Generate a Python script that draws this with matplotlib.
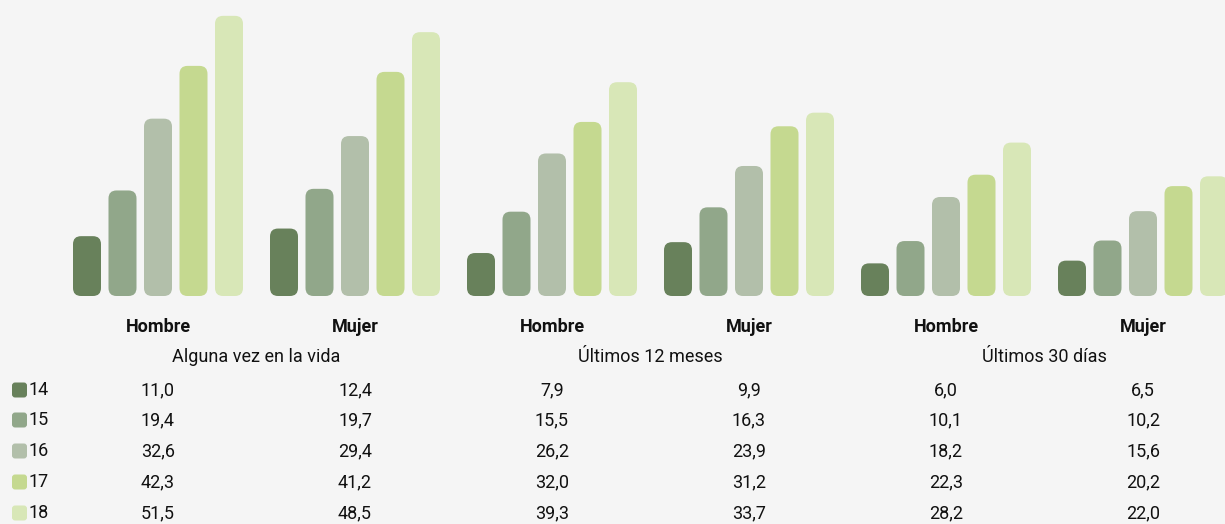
import matplotlib.pyplot as plt
from matplotlib.patches import FancyBboxPatch
import matplotlib.transforms as mtransforms

# Data
ages = ['14', '15', '16', '17', '18']
groups = ['Hombre', 'Mujer', 'Hombre', 'Mujer', 'Hombre', 'Mujer']
periods = ['Alguna vez en la vida', 'Últimos 12 meses', 'Últimos 30 días']
vida = [[11.0, 19.4, 32.6, 42.3, 51.5], [12.4, 19.7, 29.4, 41.2, 48.5]]
meses12 = [[7.9, 15.5, 26.2, 32.0, 39.3], [9.9, 16.3, 23.9, 31.2, 33.7]]
dias30 = [[6.0, 10.1, 18.2, 22.3, 28.2], [6.5, 10.2, 15.6, 20.2, 22.0]]
colors = ['#68815b', '#91a78a', '#b2bfaa', '#c5d990', '#d8e7b7']

series = vida + meses12 + dias30
bg = '#f5f5f5'

plt.rcParams['font.family'] = ['Roboto', 'DejaVu Sans']

W, H = 1225, 524
fig = plt.figure(figsize=(W / 100, H / 100), dpi=100, facecolor=bg)
base_px = 296
ax = fig.add_axes([0, (H - base_px) / H, 1, base_px / H])
ax.set_facecolor(bg)
px_per_x = 197.0
px_per_y = 5.44
ax.set_xlim(-158 / px_per_x, (W - 158) / px_per_x)
ax.set_ylim(0, base_px / px_per_y)
ax.axis('off')

bw = 28 / px_per_x
step = 35.5 / px_per_x
aspect = px_per_x / px_per_y
r = 8 / px_per_x
for g, vals in enumerate(series):
    for k, v in enumerate(vals):
        x0 = g + (k - 2) * step - bw / 2
        p = FancyBboxPatch((x0, 0), bw, v,
                           boxstyle=f'round,pad=0,rounding_size={r}',
                           mutation_aspect=aspect, fc=colors[k], ec='none')
        ax.add_patch(p)

trans = mtransforms.blended_transform_factory(ax.transData, fig.transFigure)
txt = '#111111'

def fy(py):
    return 1 - py / H

for g, name in enumerate(groups):
    ax.text(g, fy(327), name, transform=trans, ha='center', va='center',
            fontsize=13, fontweight='bold', color=txt)
for i, per in enumerate(periods):
    ax.text(2 * i + 0.5, fy(357), per, transform=trans, ha='center', va='center',
            fontsize=13, color=txt)

row_y = [390, 420, 451, 482, 513]
for k, age in enumerate(ages):
    sq = FancyBboxPatch((12 / W, fy(row_y[k] + 7.5)), 15 / W, 15 / H,
                        boxstyle='round,pad=0,rounding_size=0.0025',
                        mutation_aspect=W / H,
                        transform=fig.transFigure, fc=colors[k], ec='none')
    fig.patches.append(sq)
    fig.text(28 / W, fy(row_y[k]), age, ha='left', va='center',
             fontsize=13, color=txt)
    for g, vals in enumerate(series):
        ax.text(g, fy(row_y[k]), f'{vals[k]:.1f}'.replace('.', ','),
                transform=trans, ha='center', va='center',
                fontsize=13, color=txt)

plt.savefig('out.png', dpi=100, facecolor=bg)
